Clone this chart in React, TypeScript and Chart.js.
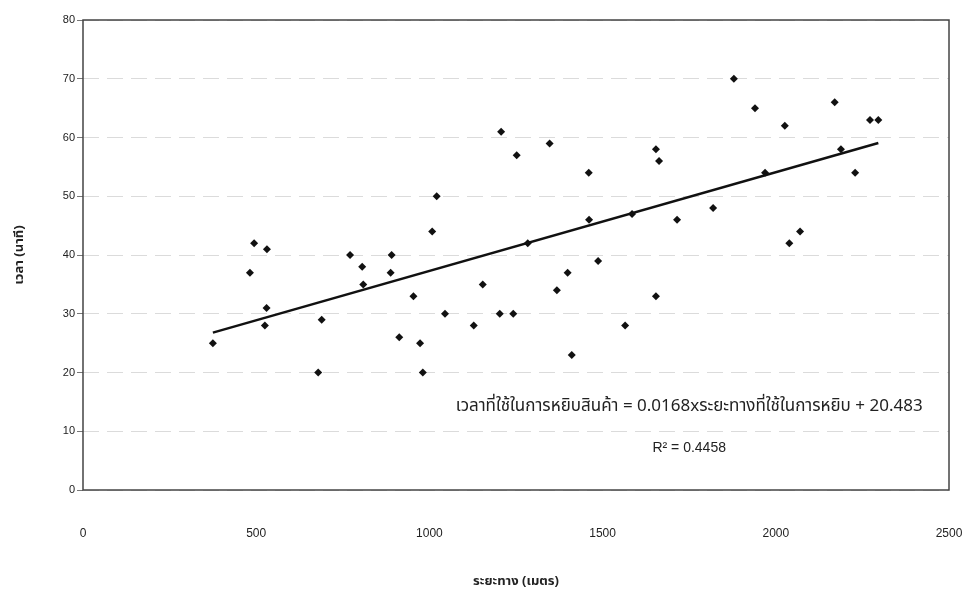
import React, { useEffect, useRef } from 'react';
import { Chart, registerables } from 'chart.js';

Chart.register(...registerables);

// distance (metres) of each picking trip
const distance = [
  375, 482, 494, 525, 530, 531, 679, 689, 771, 806, 809, 888, 891, 913, 954, 973, 981,
  1008, 1021, 1045, 1128, 1154, 1203, 1207, 1242, 1252, 1284, 1347, 1368, 1399, 1411,
  1460, 1461, 1487, 1565, 1585, 1654, 1654, 1663, 1715, 1819, 1879, 1940, 1969, 2026,
  2039, 2070, 2170, 2188, 2229, 2272, 2296,
];
// picking time (minutes) for each trip
const time = [
  25, 37, 42, 28, 31, 41, 20, 29, 40, 38, 35, 37, 40, 26, 33, 25, 20,
  44, 50, 30, 28, 35, 30, 61, 30, 57, 42, 59, 34, 37, 23,
  54, 46, 39, 28, 47, 33, 58, 56, 46, 48, 70, 65, 54, 62,
  42, 44, 66, 58, 54, 63, 63,
];

const slope = 0.0168;
const intercept = 20.483;
const rSquared = 0.4458;

const xTitle = 'ระยะทาง (เมตร)';
const yTitle = 'เวลา (นาที)';
const equationText = `เวลาที่ใช้ในการหยิบสินค้า = ${slope}xระยะทางที่ใช้ในการหยิบ + ${intercept}`;
const r2Text = `R² = ${rSquared}`;

// label anchor (in data units)
const labelAnchor = { x: 1750, eqY: 14, r2Y: 7.2 };

const thaiFont = "'Noto Sans Thai', 'Noto Sans Thai UI', Tahoma, 'Loma', 'Garuda', 'Liberation Sans', 'DejaVu Sans', sans-serif";

const framePlugin = {
  id: 'frame',
  beforeDatasetsDraw(chart: any) {
    const { ctx, chartArea } = chart;
    ctx.save();
    ctx.strokeStyle = '#444';
    ctx.lineWidth = 1.5;
    ctx.strokeRect(chartArea.left, chartArea.top, chartArea.right - chartArea.left, chartArea.bottom - chartArea.top);
    ctx.restore();
  },
  afterDraw(chart: any) {
    const { ctx, scales } = chart;
    const cx = scales.x.getPixelForValue(labelAnchor.x);
    ctx.save();
    ctx.fillStyle = '#222';
    ctx.textAlign = 'center';
    ctx.textBaseline = 'middle';
    ctx.font = `17px ${thaiFont}`;
    ctx.fillText(equationText, cx, scales.y.getPixelForValue(labelAnchor.eqY));
    ctx.font = `14px 'Liberation Sans', Arial, sans-serif`;
    ctx.fillText(r2Text, cx, scales.y.getPixelForValue(labelAnchor.r2Y));
    ctx.restore();
  },
};

export default function App() {
  const ref = useRef<HTMLCanvasElement | null>(null);

  useEffect(() => {
    if (!ref.current) return;
    const points = distance.map((d, i) => ({ x: d, y: time[i] }));
    const minX = Math.min(...distance);
    const maxX = Math.max(...distance);
    const trend = [
      { x: minX, y: slope * minX + intercept },
      { x: maxX, y: slope * maxX + intercept },
    ];
    const chart = new Chart(ref.current, {
      type: 'scatter',
      data: {
        datasets: [
          {
            label: 'trend',
            data: trend,
            showLine: true,
            borderColor: '#111',
            borderWidth: 2.5,
            pointRadius: 0,
            fill: false,
          },
          {
            label: 'data',
            data: points,
            pointStyle: 'rectRot',
            pointRadius: 4,
            backgroundColor: '#111',
            borderColor: '#111',
            borderWidth: 0,
          },
        ],
      },
      options: {
        responsive: false,
        animation: false,
        layout: { padding: { top: 20, right: 25, bottom: 0, left: 0 } },
        plugins: { legend: { display: false }, tooltip: { enabled: false } },
        scales: {
          x: {
            type: 'linear',
            min: 0,
            max: 2500,
            afterFit(scale: any) {
              scale.height = 104;
              scale.paddingLeft = 0;
              scale.paddingRight = 0;
            },
            ticks: {
              stepSize: 500,
              padding: 36,
              color: '#222',
              font: { family: "'Liberation Sans Narrow', 'Liberation Sans', Arial, sans-serif", size: 12 },
              maxRotation: 0,
              callback: (v: any) => String(v),
            },
            grid: { display: false, drawTicks: false },
            border: { display: false },
            title: {
              display: true,
              text: xTitle,
              color: '#222',
              font: { family: thaiFont, size: 13, weight: 'bold' },
              padding: { top: 0, bottom: 4 },
            },
          },
          y: {
            type: 'linear',
            min: 0,
            max: 80,
            afterFit(scale: any) { scale.width = 83; },
            ticks: {
              stepSize: 10,
              padding: 2,
              color: '#222',
              font: { family: "'Liberation Sans', Arial, sans-serif", size: 11 },
              callback: (v: any) => String(v),
            },
            grid: {
              color: 'rgba(0,0,0,0.14)',
              lineWidth: 1,
              tickLength: 6,
              tickColor: '#777',
              tickBorderDash: [],
            },
            border: { display: false, dash: [16, 8] },
            title: {
              display: true,
              text: yTitle,
              color: '#222',
              font: { family: thaiFont, size: 13, weight: 'bold' },
              padding: { top: 13, bottom: 0 },
            },
          },
        },
      },
      plugins: [framePlugin],
    });
    return () => chart.destroy();
  }, []);

  return (
    <div style={{ position: 'fixed', left: 0, top: 0, width: 974, height: 594, background: '#fff' }}>
      <canvas ref={ref} width={974} height={594} style={{ width: 974, height: 594 }} />
    </div>
  );
}
